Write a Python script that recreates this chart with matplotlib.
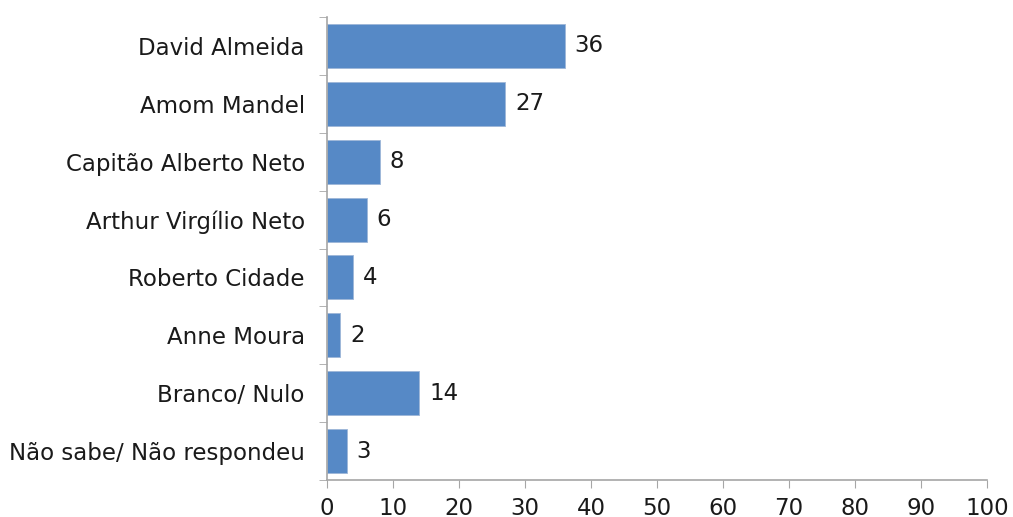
import matplotlib.pyplot as plt
import numpy as np

# data
candidates = ['David Almeida', 'Amom Mandel', 'Capitão Alberto Neto',
              'Arthur Virgílio Neto', 'Roberto Cidade', 'Anne Moura',
              'Branco/ Nulo', 'Não sabe/ Não respondeu']
votes = [36, 27, 8, 6, 4, 2, 14, 3]
x_ticks = list(range(0, 101, 10))

plt.rcParams['font.family'] = ['DejaVu Sans']
fs = 16.5

fig = plt.figure(figsize=(10.13, 5.17), dpi=100)
ax = fig.add_axes([327/1013, 37/517, 660/1013, 463/517])

y = np.arange(len(candidates))
ax.barh(y, votes, height=0.76, color='#5689C6', edgecolor='#9DB6D8', linewidth=0.6)
for yi, v in zip(y, votes):
    ax.text(v + 1.5, yi, str(v), va='center', ha='left', fontsize=fs, color='#1a1a1a')

ax.set_xlim(0, 100)
ax.set_ylim(len(candidates) - 0.5, -0.5)
ax.set_xticks(x_ticks)
ax.set_xticklabels([str(t) for t in x_ticks], fontsize=fs, color='#1a1a1a')
ax.set_yticks(y)
ax.set_yticklabels(candidates, fontsize=fs, color='#1a1a1a')
ax.tick_params(axis='y', length=0, pad=16)
ax.set_yticks(np.arange(-0.5, len(candidates)), minor=True)
ax.tick_params(axis='y', which='minor', length=6, color='#A6A6A6', direction='out')
ax.tick_params(axis='x', length=6, color='#A6A6A6', direction='out', pad=6)

for s in ['top', 'right']:
    ax.spines[s].set_visible(False)
for s in ['left', 'bottom']:
    ax.spines[s].set_color('#A6A6A6')
    ax.spines[s].set_linewidth(1.2)

fig.savefig('out.png', dpi=100)
